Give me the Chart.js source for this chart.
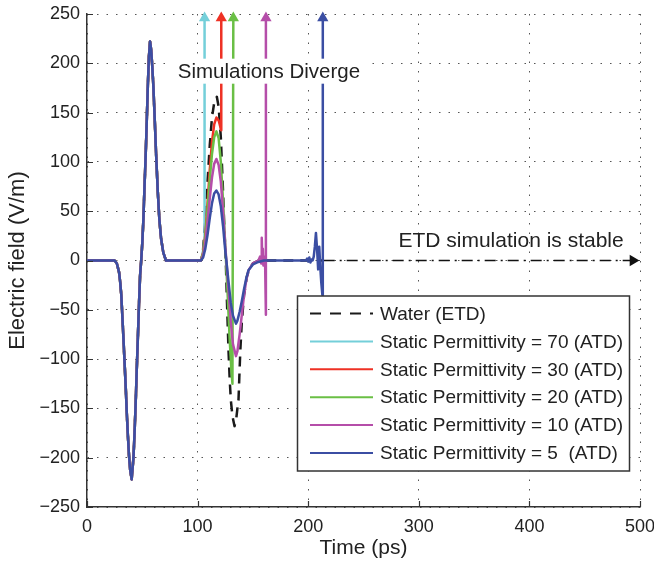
<!DOCTYPE html>
<html>
<head>
<meta charset="utf-8">
<script src="https://cdn.jsdelivr.net/npm/chart.js@4"></script>
<style>
  body { margin: 0; background: #fff; }
  canvas { display: block; }
</style>
</head>
<body>
<canvas id="chart" width="654" height="563"></canvas>
<script>
// incident pulse (shared by every run)
const incTime  = [0, 25, 27, 29, 30, 31, 33, 35, 36, 37, 38, 39, 40.4, 42, 43, 44, 45, 46, 47, 48, 49, 50, 51, 52, 53, 54, 55, 56, 57, 58, 59, 60, 61, 62.4, 64, 65.4, 67, 69, 71.4];
const incField = [0, 0, -3, -12, -22, -35, -80, -128, -155, -178, -198, -212, -222, -200, -175, -145, -110, -78, -45, -15, 0, 18, 42, 75, 105, 140, 177, 207, 222, 214, 197, 177, 150, 110, 70, 42, 22, 8, 0];

// water, explicit time domain
const waterTime  = [103, 105, 107, 109, 111, 113, 115, 117.4, 119, 121, 123, 124, 125.5, 126.5, 128, 129, 130, 131.5, 133.4, 135, 136, 137, 137.7, 138.6, 140, 142, 144.6, 147, 150, 155, 214];
const waterField = [0, 12, 40, 80, 117, 145, 160, 166, 156, 125, 70, 38, 0, -40, -93, -120, -141, -158, -168, -160, -150, -141, -119, -92, -62, -35, -16, -8, -3, 0, 0];

// ATD runs, last point = divergence arrow
const eps70Time  = [103, 105, 106.3, 106.3];
const eps70Field = [0, 10, 22, 246];

const eps30Time  = [103, 105, 107, 109, 111, 113, 115, 117, 119, 120, 121.2, 121.4];
const eps30Field = [0, 8, 26, 58, 92, 120, 138, 145, 142, 138, 132, 246];

const eps20Time  = [103, 105, 107, 109, 111, 113, 115, 117, 119, 121, 123, 125, 127, 129, 130.5, 131.5, 132.3];
const eps20Field = [0, 7, 23, 52, 82, 108, 125, 131, 124, 100, 60, 15, -30, -80, -110, -125, 246];

const eps10Time  = [103, 105, 107, 109, 111, 113, 115, 117, 119, 121, 123, 125, 126, 128, 130, 132, 134.7, 136, 138, 140, 142, 144, 146, 150, 155, 156.5, 157.5, 158, 158.5, 159, 159.5, 160, 161, 161.7, 161.8];
const eps10Field = [0, 5, 18, 40, 63, 84, 98, 103, 97, 80, 50, 15, 0, -30, -62, -85, -97, -92, -75, -55, -35, -20, -10, -3, 0, 4, -3, 23, 0, 12, -5, 4, 0, -55, 246];

const eps5Time  = [103, 105, 107, 109, 111, 113, 115, 117, 119, 121, 123, 125, 126, 128, 130, 132, 134.7, 136, 138, 140, 142, 144, 146, 150, 155, 160, 198, 199, 200, 201, 202, 203, 204, 205, 206, 207, 208, 209, 210, 211, 211.8, 212.8, 213.2];
const eps5Field = [0, 3, 12, 26, 43, 58, 68, 71, 67, 55, 35, 10, 0, -22, -43, -56, -64, -61, -52, -41, -29, -18, -10, -4, -1.5, 0, 0, 2, -1, 3, -2, 1, 0, 4, 14, 28, 12, -9, 14, -8, -22, -35, 246];

// "ETD simulation is stable" arrow
const etdTime  = [214, 493.6];
const etdField = [0, 0];

const seriesLabels = ['Water (ETD)', 'Static Permittivity = 70 (ATD)', 'Static Permittivity = 30 (ATD)',
    'Static Permittivity = 20 (ATD)', 'Static Permittivity = 10 (ATD)', 'Static Permittivity = 5  (ATD)'];
const seriesColors = ['#1a1a1a', '#74cfd9', '#ee3124', '#6abf45', '#b54ea9', '#3b4ea3'];

const xTicks = [0, 100, 200, 300, 400, 500];
const yTicks = [-250, -200, -150, -100, -50, 0, 50, 100, 150, 200, 250];

const FONT = '"Liberation Sans", Arial, Helvetica, sans-serif';

function toPoints(times, values) {
    return times.map(function (t, i) { return { x: t, y: values[i] }; });
}

function withIncident(times, values) {
    return toPoints(incTime.concat(times), incField.concat(values));
}

function arrowRadius(ctx) {
    return ctx.dataIndex === ctx.dataset.data.length - 1 ? 6.5 : 0;
}

function runDataset(i, times, values, order, arrow) {
    return {
        label: seriesLabels[i],
        data: withIncident(times, values),
        borderColor: seriesColors[i],
        backgroundColor: seriesColors[i],
        borderWidth: 2.5,
        borderDash: i === 0 ? [10, 7] : [],
        borderJoinStyle: 'round',
        borderCapStyle: 'butt',
        pointStyle: 'triangle',
        pointRadius: arrow ? arrowRadius : 0,
        pointBorderWidth: 0,
        pointBackgroundColor: seriesColors[i],
        order: order,
        clip: false
    };
}

// legend box, annotation texts and inward tick marks
const decorPlugin = {
    id: 'decor',
    afterDatasetsDraw: function (chart) {
        const ctx = chart.ctx;
        const xs = chart.scales.x, ys = chart.scales.y;
        const area = chart.chartArea;
        ctx.save();

        // inward ticks
        ctx.strokeStyle = '#333';
        ctx.lineWidth = 1.2;
        ctx.beginPath();
        xTicks.forEach(function (v) {
            const px = Math.round(xs.getPixelForValue(v)) + 0.5;
            ctx.moveTo(px, area.bottom);
            ctx.lineTo(px, area.bottom - 6);
        });
        yTicks.forEach(function (v) {
            const py = Math.round(ys.getPixelForValue(v)) + 0.5;
            ctx.moveTo(area.left, py);
            ctx.lineTo(area.left + 6, py);
        });
        ctx.stroke();

        // "Simulations Diverge"
        ctx.font = '20.5px ' + FONT;
        ctx.textBaseline = 'middle';
        ctx.textAlign = 'center';
        const cx = xs.getPixelForValue(164.5), cy = ys.getPixelForValue(192);
        const w = ctx.measureText('Simulations Diverge').width;
        ctx.fillStyle = '#fff';
        ctx.fillRect(cx - w / 2 - 5, cy - 12.5, w + 10, 25);
        ctx.fillStyle = '#222';
        ctx.fillText('Simulations Diverge', cx, cy + 1);

        // "ETD simulation is stable"
        ctx.font = '21px ' + FONT;
        ctx.textAlign = 'left';
        ctx.fillText('ETD simulation is stable', xs.getPixelForValue(281.6), ys.getPixelForValue(19.8));

        // legend
        const lx = 297.5, ly = 296, lw = 332, lh = 175;
        ctx.fillStyle = '#fff';
        ctx.fillRect(lx, ly, lw, lh);
        ctx.strokeStyle = '#333';
        ctx.lineWidth = 1.5;
        ctx.strokeRect(lx, ly, lw, lh);
        ctx.font = '19px ' + FONT;
        seriesLabels.forEach(function (label, i) {
            const ry = 313.5 + i * 27.9;
            ctx.strokeStyle = seriesColors[i];
            ctx.lineWidth = 2;
            ctx.setLineDash(i === 0 ? [11, 9] : []);
            ctx.beginPath();
            ctx.moveTo(310, ry);
            ctx.lineTo(373, ry);
            ctx.stroke();
            ctx.setLineDash([]);
            ctx.fillStyle = '#222';
            ctx.fillText(label, 380, ry + 1);
        });
        ctx.restore();
    }
};

Chart.defaults.font.family = FONT;
Chart.defaults.color = '#222';

const ctx = document.getElementById('chart').getContext('2d');
const chart = new Chart(ctx, {
    type: 'line',
    data: {
        datasets: [
            runDataset(0, waterTime, waterField, 6, false),
            runDataset(1, eps70Time, eps70Field, 5, true),
            runDataset(2, eps30Time, eps30Field, 4, true),
            runDataset(3, eps20Time, eps20Field, 3, true),
            runDataset(4, eps10Time, eps10Field, 2, true),
            runDataset(5, eps5Time, eps5Field, 1, true),
            {
                label: 'ETD arrow',
                data: toPoints(etdTime, etdField),
                borderColor: '#111',
                backgroundColor: '#111',
                borderWidth: 1.6,
                borderDash: [11, 5, 2, 5],
                pointStyle: 'triangle',
                pointRotation: 90,
                pointRadius: arrowRadius,
                pointBorderWidth: 0,
                pointBackgroundColor: '#111',
                order: 7,
                clip: false
            }
        ]
    },
    options: {
        responsive: false,
        animation: false,
        layout: {
            padding: { top: 14, right: 14, left: 0, bottom: 0 }
        },
        plugins: {
            legend: { display: false },
            tooltip: { enabled: false }
        },
        elements: {
            line: { tension: 0, fill: false }
        },
        scales: {
            x: {
                type: 'linear',
                min: 0,
                max: 500,
                afterFit: function (scale) {
                    scale.height = 56;
                    scale.paddingLeft = 0;
                    scale.paddingRight = 0;
                },
                afterBuildTicks: function (scale) {
                    scale.ticks = xTicks.map(function (v) { return { value: v }; });
                },
                grid: { color: '#555', lineWidth: 1, drawTicks: false },
                border: { display: true, color: '#333', width: 1.5, dash: [1.5, 8] },
                ticks: { padding: 9, maxRotation: 0, font: { size: 18 } },
                title: {
                    display: true,
                    text: 'Time (ps)',
                    font: { size: 21 },
                    padding: { top: 0, bottom: 2 }
                }
            },
            y: {
                type: 'linear',
                min: -250,
                max: 250,
                afterFit: function (scale) {
                    scale.width = 87;
                    scale.paddingTop = 0;
                    scale.paddingBottom = 0;
                },
                afterBuildTicks: function (scale) {
                    scale.ticks = yTicks.map(function (v) { return { value: v }; });
                },
                grid: { color: '#555', lineWidth: 1, drawTicks: false },
                border: { display: true, color: '#333', width: 1.5, dash: [1.5, 8] },
                ticks: {
                    padding: 7,
                    font: { size: 18 },
                    callback: function (v) { return v < 0 ? '\u2212' + Math.abs(v) : '' + v; }
                },
                title: {
                    display: true,
                    text: 'Electric field (V/m)',
                    font: { size: 22 },
                    padding: { top: 5, bottom: 0 }
                }
            }
        }
    },
    plugins: [decorPlugin]
});
</script>
</body>
</html>
